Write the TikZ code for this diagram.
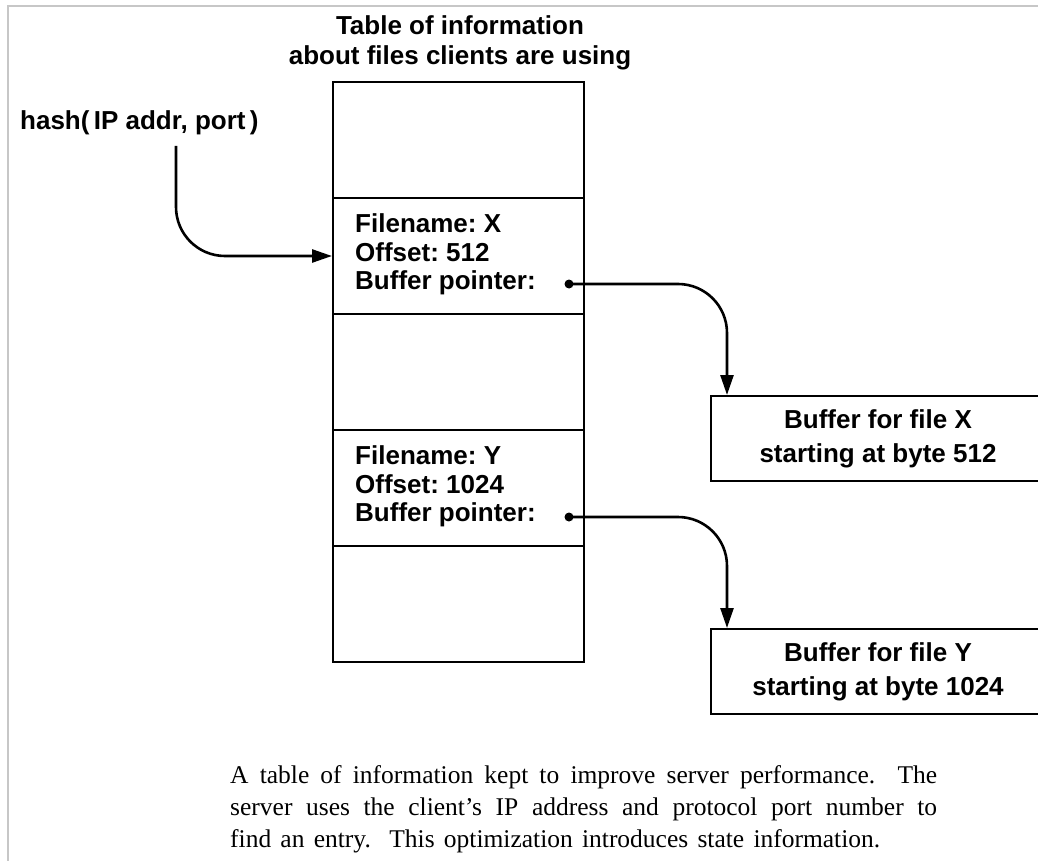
\documentclass[tikz,border=0pt]{standalone}
\usepackage{fontspec}
\setmainfont{Liberation Serif}
\newfontfamily\hv{Liberation Sans}
\usetikzlibrary{arrows.meta,calc}
\begin{document}
\begin{tikzpicture}[x=1pt,y=-1pt,
  row/.style={draw,line width=2pt,minimum width=251pt,minimum height=116pt,inner sep=0pt},
  lbl/.style={font=\hv\bfseries\frenchspacing\fontsize{26}{28.7}\selectfont,inner sep=0pt},
  buf/.style={draw,line width=2pt,minimum width=334pt,minimum height=85pt,align=center,
    font=\hv\bfseries\frenchspacing\fontsize{26}{34.3}\selectfont,inner sep=0pt},
  conn/.style={line width=2.6pt,-{Triangle[length=20pt,width=13pt]},rounded corners=49pt},
  dotn/.style={circle,fill,inner sep=0pt,minimum size=9pt},
  captxt/.style={font=\frenchspacing\fontsize{25.5}{32}\selectfont,inner sep=0pt,anchor=base west}]
\useasboundingbox (0,0) rectangle (1038,861);
\clip (0,0) rectangle (1038,861);
\fill[white] (0,0) rectangle (1038,861);
\draw[black!22,line width=1.5pt] (8,861) -- (8,6) -- (1038,6);

% title
\node[lbl,anchor=base] (t1) at (460,34.5) {Table of information};
\node[lbl,anchor=base] (t2) at (460,65) {about files clients are using};

% table rows
\node[row] (r1) at (458.5,140) {};
\node[row] (r2) at (458.5,256) {};
\node[row] (r3) at (458.5,372) {};
\node[row] (r4) at (458.5,488) {};
\node[row] (r5) at (458.5,604) {};

% entries
\node[lbl,anchor=north west,align=left] (ex) at (355,213.4) {Filename: X\\Offset: 512\\Buffer pointer:};
\node[lbl,anchor=north west,align=left] (ey) at (355,445.4) {Filename: Y\\Offset: 1024\\Buffer pointer:};
\node[dotn] (dx) at (569,284) {};
\node[dotn] (dy) at (569,517) {};

% hash label
\node[lbl,anchor=base west] (hash) at (20,130) {hash(\,IP addr, port\,)};
\coordinate (hout) at (176,146);

% buffers
\node[buf] (bx) at (878,438.5) {Buffer for file X\\starting at byte 512};
\node[buf] (by) at (878,671.5) {Buffer for file Y\\starting at byte 1024};

% connectors
\draw[conn] (hout) |- (r2.west);
\draw[conn] (dx.center) -| ([xshift=17pt]bx.north west);
\draw[conn] (dy.center) -| ([xshift=17pt]by.north west);

% caption
\node[captxt] (c1) at (230,783) {\makebox[707pt][s]{A table of information kept to improve server performance.\ \ The}};
\node[captxt] (c2) at (230,815) {\makebox[707pt][s]{server uses the client's IP address and protocol port number to}};
\node[captxt] (c3) at (230,847) {\makebox[650pt][s]{find an entry.\ \ This optimization introduces state information.}};
\end{tikzpicture}
\end{document}
